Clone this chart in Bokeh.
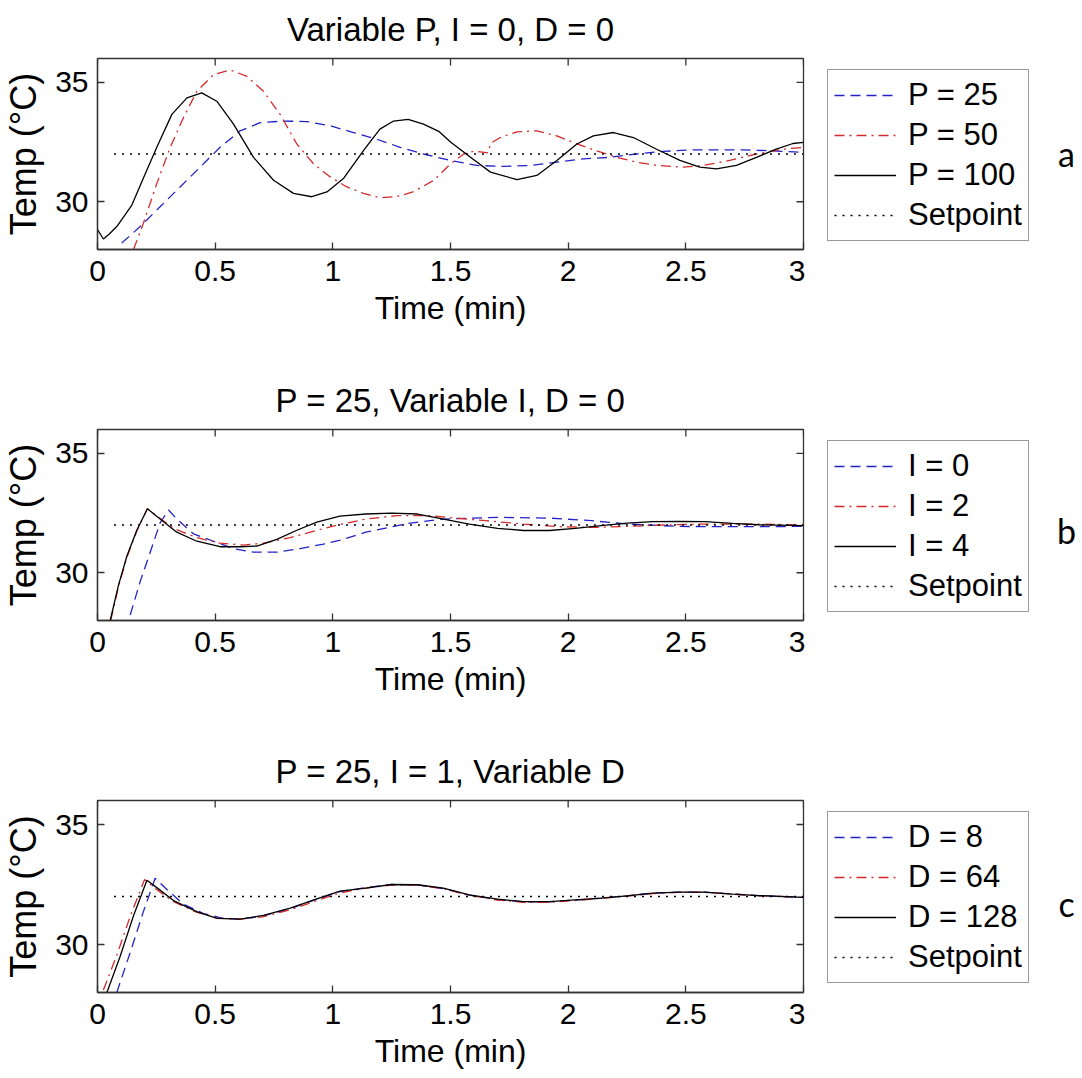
import math
from bokeh.plotting import figure
from bokeh.models import Range1d, FixedTicker, Legend, LegendItem
from bokeh.layouts import column, row
from bokeh.embed import file_html
from bokeh.resources import INLINE
from bokeh.core.properties import value

# ---------------- data ----------------
x_ticks = [0, 0.5, 1, 1.5, 2, 2.5, 3]
x_tick_labels = ["0", "0.5", "1", "1.5", "2", "2.5", "3"]
y_ticks = [30, 35]
y_tick_labels = ["30", "35"]

setpoint_t = [0.07, 3.0]
setpoint_y = [32, 32]

# Panel a: Variable P
p25_t = [0.103, 0.181, 0.266, 0.351, 0.436, 0.521, 0.606, 0.691, 0.79, 0.89, 0.989, 1.088, 1.187, 1.286,
         1.385, 1.5, 1.613, 1.726, 1.839, 1.952, 2.065, 2.178, 2.29, 2.404, 2.517, 2.63, 2.743, 2.856, 3.0]
p25_y = [28.27, 28.96, 29.79, 30.62, 31.45, 32.28, 32.97, 33.31, 33.38, 33.36, 33.18, 32.9, 32.62, 32.28,
         32.0, 31.73, 31.52, 31.48, 31.52, 31.66, 31.8, 31.86, 32.0, 32.11, 32.17, 32.17, 32.17, 32.14, 32.07]
p50_t = [0.153, 0.195, 0.252, 0.309, 0.365, 0.422, 0.493, 0.564, 0.635, 0.705, 0.776, 0.847, 0.918, 0.989,
         1.06, 1.13, 1.2, 1.27, 1.34, 1.43, 1.5, 1.556, 1.6, 1.66, 1.67, 1.712, 1.782, 1.867, 1.952, 2.037,
         2.12, 2.206, 2.29, 2.376, 2.489, 2.573, 2.686, 2.8, 2.912, 3.0]
p50_y = [28.0, 29.1, 30.76, 32.28, 33.52, 34.63, 35.32, 35.52, 35.25, 34.63, 33.66, 32.42, 31.59, 31.04,
         30.62, 30.35, 30.17, 30.21, 30.41, 30.9, 31.59, 32.0, 32.12, 32.05, 32.45, 32.69, 32.93, 32.97, 32.76, 32.42,
         32.14, 31.86, 31.66, 31.52, 31.45, 31.52, 31.73, 32.0, 32.2, 32.28]
p100_t = [0.0, 0.025, 0.05, 0.082, 0.146, 0.203, 0.252, 0.316, 0.38, 0.443, 0.507, 0.578, 0.663, 0.748, 0.833,
          0.911, 0.975, 1.045, 1.13, 1.2, 1.258, 1.32, 1.385, 1.45, 1.5, 1.585, 1.67, 1.782, 1.867, 1.952,
          2.037, 2.107, 2.192, 2.277, 2.376, 2.475, 2.559, 2.63, 2.715, 2.8, 2.884, 2.955, 3.0]
p100_y = [28.83, 28.44, 28.65, 28.96, 29.86, 31.17, 32.28, 33.66, 34.35, 34.56, 34.21, 33.25, 31.86, 30.9, 30.35,
          30.21, 30.41, 30.97, 32.14, 33.04, 33.38, 33.45, 33.25, 32.95, 32.5, 31.86, 31.24, 30.93, 31.1, 31.73,
          32.42, 32.76, 32.9, 32.69, 32.2, 31.73, 31.45, 31.38, 31.52, 31.86, 32.2, 32.44, 32.49]

# Panel b: Variable I
i0_t = [0.139, 0.181, 0.224, 0.266, 0.302, 0.337, 0.408, 0.493, 0.578, 0.663, 0.762, 0.861, 0.96, 1.045,
        1.14, 1.32, 1.47, 1.7, 1.92, 2.1, 2.25, 2.47, 2.7, 3.0]
i0_y = [28.23, 29.62, 30.86, 32.09, 32.63, 32.25, 31.63, 31.32, 31.01, 30.86, 30.86, 31.01, 31.2, 31.4,
        31.7, 32.07, 32.25, 32.32, 32.29, 32.18, 32.04, 31.94, 31.93, 31.94]
i2_t = [0.056, 0.09, 0.126, 0.168, 0.212, 0.323, 0.422, 0.521, 0.62, 0.705, 0.819, 0.932, 1.03, 1.14, 1.27,
        1.41, 1.52, 1.65, 1.81, 1.96, 2.12, 2.25, 2.4, 2.58, 2.81, 3.0]
i2_y = [28.0, 29.45, 30.68, 31.77, 32.68, 31.86, 31.47, 31.24, 31.16, 31.24, 31.47, 31.78, 32.02, 32.25, 32.39,
        32.39, 32.29, 32.18, 32.04, 31.93, 31.9, 31.94, 32.0, 32.04, 32.04, 32.0]
i4_t = [0.054, 0.089, 0.125, 0.167, 0.212, 0.266, 0.337, 0.422, 0.521, 0.606, 0.677, 0.762, 0.847, 0.932,
        1.03, 1.14, 1.25, 1.36, 1.47, 1.58, 1.7, 1.81, 1.92, 2.03, 2.14, 2.25, 2.36, 2.47, 2.58, 2.7, 2.81, 3.0]
i4_y = [28.0, 29.47, 30.7, 31.78, 32.68, 32.25, 31.7, 31.32, 31.09, 31.09, 31.12, 31.4, 31.78, 32.12,
        32.37, 32.46, 32.5, 32.46, 32.25, 32.04, 31.86, 31.77, 31.77, 31.86, 31.97, 32.08, 32.14, 32.15, 32.14,
        32.07, 32.01, 31.97]

# Panel c: Variable D
d8_t = [0.082, 0.139, 0.195, 0.245, 0.295, 0.365, 0.45, 0.535, 0.606, 0.7, 0.82, 0.93, 1.03, 1.14, 1.25,
        1.36, 1.47, 1.58, 1.7, 1.81, 1.92, 2.03, 2.14, 2.25, 2.36, 2.47, 2.58, 2.7, 2.81, 3.0]
d8_y = [28.0, 29.67, 31.37, 32.76, 32.29, 31.68, 31.29, 31.09, 31.06, 31.18, 31.5, 31.88, 32.2, 32.37, 32.5,
        32.48, 32.33, 32.06, 31.87, 31.78, 31.78, 31.85, 31.93, 32.03, 32.14, 32.18, 32.18, 32.1, 32.04, 31.96]
d64_t = [0.025, 0.08, 0.14, 0.2, 0.25, 0.32, 0.42, 0.51, 0.6, 0.7, 0.82, 0.93, 1.03, 1.14, 1.25, 1.36, 1.47,
         1.58, 1.7, 1.81, 1.92, 2.03, 2.14, 2.25, 2.36, 2.47, 2.58, 2.7, 2.81, 3.0]
d64_y = [28.1, 29.5, 31.2, 32.71, 32.3, 31.8, 31.35, 31.1, 31.05, 31.15, 31.45, 31.82, 32.15, 32.35, 32.48,
         32.47, 32.32, 32.05, 31.85, 31.76, 31.76, 31.83, 31.92, 32.02, 32.12, 32.17, 32.17, 32.1, 32.03, 31.97]
d128_t = [0.04, 0.096, 0.153, 0.21, 0.252, 0.323, 0.422, 0.507, 0.606, 0.705, 0.819, 0.932, 1.03, 1.14, 1.25,
          1.36, 1.47, 1.58, 1.7, 1.81, 1.92, 2.03, 2.14, 2.25, 2.36, 2.47, 2.58, 2.7, 2.81, 3.0]
d128_y = [28.0, 29.5, 31.2, 32.68, 32.37, 31.83, 31.37, 31.09, 31.06, 31.21, 31.52, 31.9, 32.22, 32.35, 32.5,
          32.49, 32.35, 32.07, 31.89, 31.79, 31.79, 31.86, 31.93, 32.03, 32.14, 32.18, 32.18, 32.1, 32.04, 31.96]

titles = ["Variable P, I = 0, D = 0", "P = 25, Variable I, D = 0", "P = 25, I = 1, Variable D"]
labels_a = ["P = 25", "P = 50", "P = 100", "Setpoint"]
labels_b = ["I = 0", "I = 2", "I = 4", "Setpoint"]
labels_c = ["D = 8", "D = 64", "D = 128", "Setpoint"]
letters = ["a", "b", "c"]

# ---------------- style ----------------
FONT = "Liberation Sans"
BLUE = "#2222c8"
RED = "#d42a2a"
BLACK = "#000000"
FRAME = "#333333"
STYLES = [(BLUE, "10 6"), (RED, "10 5 2 5"), (BLACK, "solid"), (BLACK, "2 6")]
X_MIN, X_MAX = 0, 3
Y_MIN, Y_MAX = 28, 36
LEFT = 96
FRAME_W = 707
RIGHT = 2
MAIN_W = LEFT + FRAME_W + RIGHT
SIDE_W = 1082 - MAIN_W
SIDE_LEFT = 11
LEG_MARGIN = 11


def style_axis(ax, ticks, labels, label_size):
    ax.ticker = FixedTicker(ticks=ticks)
    ax.major_label_overrides = {t: l for t, l in zip(ticks, labels)}
    ax.major_tick_in = 7
    ax.major_tick_out = 0
    ax.minor_tick_in = 0
    ax.minor_tick_out = 0
    ax.axis_line_color = FRAME
    ax.axis_line_width = 1.3
    ax.major_tick_line_color = FRAME
    ax.major_tick_line_width = 1.3
    ax.major_label_text_font = FONT
    ax.major_label_text_color = "#000000"
    ax.major_label_text_font_size = "30px"
    ax.axis_label_text_font = FONT
    ax.axis_label_text_font_size = label_size
    ax.axis_label_text_font_style = "normal"
    ax.axis_label_text_color = "#000000"


def panel(title, curves, height, top, bottom):
    p = figure(width=MAIN_W, height=height, x_range=Range1d(X_MIN, X_MAX), y_range=Range1d(Y_MIN, Y_MAX),
               output_backend="svg", toolbar_location=None, title=title,
               min_border_left=LEFT, min_border_right=RIGHT, min_border_top=top, min_border_bottom=bottom,
               x_axis_label="Time (min)", y_axis_label="Temp (°C)")
    p.grid.visible = False
    p.outline_line_color = FRAME
    p.outline_line_width = 1.3
    p.background_fill_color = "white"
    p.border_fill_color = "white"

    p.title.align = "center"
    p.title.vertical_align = "top"
    p.title.text_font = FONT
    p.title.text_font_size = "33px"
    p.title.text_font_style = "normal"
    p.title.text_color = "#000000"
    p.title.standoff = 18

    xa = p.xaxis[0]
    ya = p.yaxis[0]
    style_axis(xa, x_ticks, x_tick_labels, "32px")
    style_axis(ya, y_ticks, y_tick_labels, "36px")
    xa.major_label_standoff = 11
    ya.major_label_standoff = 9
    xa.axis_label_standoff = 6
    ya.axis_label_standoff = 8

    # inward ticks on the top and right edges of the box (MATLAB style)
    p.ray(x=x_ticks, y=[Y_MAX] * len(x_ticks), length=7, length_units="screen",
          angle=-math.pi / 2, line_color=FRAME, line_width=1.3)
    p.ray(x=[X_MAX] * len(y_ticks), y=y_ticks, length=7, length_units="screen",
          angle=math.pi, line_color=FRAME, line_width=1.3)

    for (t, y), (color, dash) in zip(curves, STYLES[:3]):
        p.line(t, y, line_color=color, line_width=1.3, line_dash=dash)
    p.line(setpoint_t, setpoint_y, line_color=STYLES[3][0], line_width=1.3, line_dash=STYLES[3][1])
    return p


def side_fig(curves, labels, height, top, bottom, letter, letter_y):
    """Legend box (outside the axes, to the right) and the panel letter.
    Its frame lines up with the main panel's frame; ranges are in pixels of this figure."""
    f = figure(width=SIDE_W, height=height, x_range=Range1d(SIDE_LEFT, SIDE_W),
               y_range=Range1d(height - bottom, top),
               output_backend="svg", toolbar_location=None, title=None,
               min_border_left=SIDE_LEFT, min_border_top=top, min_border_right=0, min_border_bottom=bottom,
               x_axis_location=None, y_axis_location=None)
    f.grid.visible = False
    f.outline_line_color = None
    f.background_fill_color = "white"
    f.border_fill_color = "white"
    # legend keys: the same line styles as the curves; a single point each, so nothing is drawn in this box
    series = list(curves) + [(setpoint_t, setpoint_y)]
    keys = [f.line(x=t[:1], y=y[:1], line_color=c, line_width=1.3, line_dash=d)
            for (t, y), (c, d) in zip(series, STYLES)]
    items = [LegendItem(label=lab, renderers=[r]) for lab, r in zip(labels, keys)]
    leg = Legend(items=items, location="top_left")
    leg.label_text_font = FONT
    leg.label_text_font_size = "31px"
    leg.label_text_color = "#000000"
    leg.glyph_width = 62
    leg.glyph_height = 38
    leg.label_height = 38
    leg.label_standoff = 12
    leg.spacing = 2
    leg.padding = 6
    leg.margin = LEG_MARGIN
    leg.border_line_color = FRAME
    leg.border_line_width = 1.3
    leg.background_fill_color = "white"
    leg.background_fill_alpha = 1.0
    f.add_layout(leg, "center")
    f.text(x=[261], y=[letter_y], text=[letter], text_font=value("Lato"), text_font_size="34px",
           text_align="center", text_baseline="alphabetic", text_color="#000000")
    return f


curves_a = [(p25_t, p25_y), (p50_t, p50_y), (p100_t, p100_y)]
curves_b = [(i0_t, i0_y), (i2_t, i2_y), (i4_t, i4_y)]
curves_c = [(d8_t, d8_y), (d64_t, d64_y), (d128_t, d128_y)]

pa = panel(titles[0], curves_a, 371, 58, 122)
pb = panel(titles[1], curves_b, 371, 58, 122)
pc = panel(titles[2], curves_c, 336, 58, 86)

sa = side_fig(curves_a, labels_a, 371, 58, 122, letters[0], 153)
sb = side_fig(curves_b, labels_b, 371, 58, 122, letters[1], 159)
sc = side_fig(curves_c, labels_c, 336, 58, 86, letters[2], 161)

layout = column(row(pa, sa), row(pb, sb), row(pc, sc))
open("out.html", "w").write(file_html(layout, INLINE))
